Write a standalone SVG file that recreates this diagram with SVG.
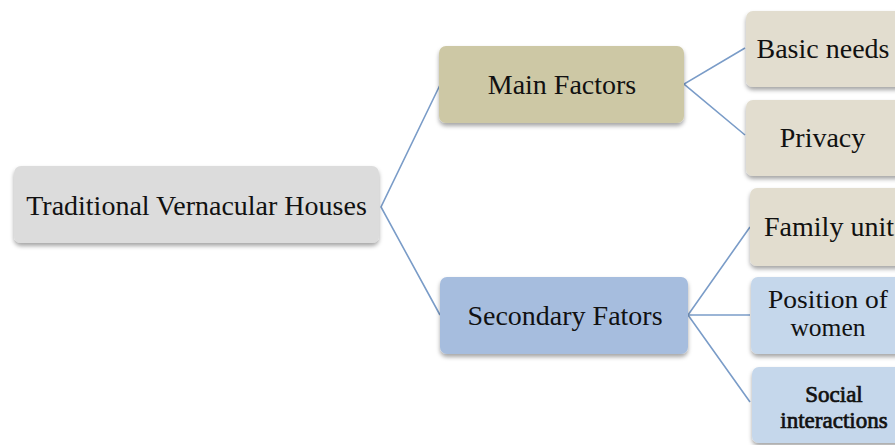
<svg xmlns="http://www.w3.org/2000/svg" width="895" height="445" viewBox="0 0 895 445">
<defs>
<filter id="sh" x="-10%" y="-20%" width="120%" height="150%">
<feDropShadow dx="0" dy="3" stdDeviation="2" flood-color="#000" flood-opacity="0.35"/>
</filter>
</defs>
<style>
.box{filter:url(#sh);}
.t{font-family:"Liberation Serif","Times New Roman",serif;font-size:28px;fill:#111;text-anchor:middle;}
.p{font-family:"Liberation Serif","Times New Roman",serif;font-size:25.5px;fill:#111;text-anchor:middle;}
.b{font-family:"Liberation Serif","Times New Roman",serif;font-size:23px;fill:#111;stroke:#111;stroke-width:0.7;text-anchor:middle;}
.c{fill:none;stroke:#7A9CC8;stroke-width:1.6;}
</style>
<rect width="895" height="445" fill="#fff"/>
<g id="connectors">
<polyline class="c" points="440,85 381,207 440,315"/>
<polyline class="c" points="745,48 684,84 745,135"/>
<polyline class="c" points="750,227 688,315 750,402"/>
<line class="c" x1="688" y1="315" x2="750" y2="315"/>
</g>
<g id="root">
<rect class="box" x="14" y="166" width="365" height="77" rx="7" fill="#DCDCDC"/>
<text class="t" x="196.5" y="215">Traditional Vernacular Houses</text>
</g>
<g id="main">
<rect class="box" x="439" y="46" width="245" height="77" rx="7" fill="#CDC8A5"/>
<text class="t" x="562" y="94">Main Factors</text>
</g>
<g id="secondary">
<rect class="box" x="440" y="277" width="248" height="77" rx="7" fill="#A6BDDE"/>
<text class="t" x="565" y="325">Secondary Fators</text>
</g>
<g id="basic">
<rect class="box" x="746" y="11" width="170" height="76" rx="7" fill="#E2DDCF"/>
<text class="t" x="823" y="58">Basic needs</text>
</g>
<g id="privacy">
<rect class="box" x="746" y="100" width="170" height="76" rx="7" fill="#E2DDCF"/>
<text class="t" x="822.5" y="147">Privacy</text>
</g>
<g id="family">
<rect class="box" x="750" y="188" width="170" height="78" rx="7" fill="#E2DDCF"/>
<text class="t" x="829" y="236">Family unit</text>
</g>
<g id="position">
<rect class="box" x="751" y="277" width="170" height="77" rx="7" fill="#C5D7EB"/>
<text class="p" x="828" y="308" textLength="120" lengthAdjust="spacingAndGlyphs">Position of</text>
<text class="p" x="828" y="336">women</text>
</g>
<g id="social">
<rect class="box" x="752" y="367" width="170" height="76" rx="7" fill="#C5D7EB"/>
<text class="b" x="834" y="402">Social</text>
<text class="b" x="834" y="428">interactions</text>
</g>
</svg>
